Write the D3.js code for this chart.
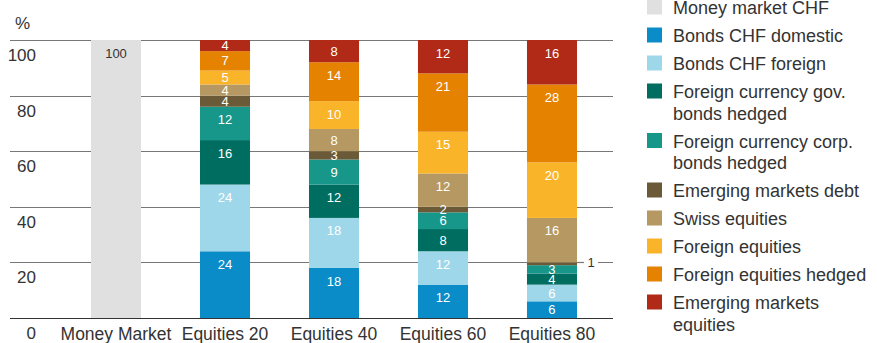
<!DOCTYPE html>
<html>
<head>
<meta charset="utf-8">
<script src="https://cdn.jsdelivr.net/npm/d3@7"></script>
<style>
  body { margin: 0; background: #fff; }
  text { font-family: "Liberation Sans", Arial, sans-serif; fill: #333; }
</style>
</head>
<body>
<div id="chart"></div>
<script>
let width = 877,
    height = 343;

// portfolios on the x axis
let portfolios = ["Money Market", "Equities 20", "Equities 40", "Equities 60", "Equities 80"];

// asset classes, bottom to top
let assets = [
  "Money market CHF",
  "Bonds CHF domestic",
  "Bonds CHF foreign",
  "Foreign currency gov. bonds hedged",
  "Foreign currency corp. bonds hedged",
  "Emerging markets debt",
  "Swiss equities",
  "Foreign equities",
  "Foreign equities hedged",
  "Emerging markets equities"
];
let legendLines = [
  ["Money market CHF"],
  ["Bonds CHF domestic"],
  ["Bonds CHF foreign"],
  ["Foreign currency gov.", "bonds hedged"],
  ["Foreign currency corp.", "bonds hedged"],
  ["Emerging markets debt"],
  ["Swiss equities"],
  ["Foreign equities"],
  ["Foreign equities hedged"],
  ["Emerging markets", "equities"]
];
let colors = ["#e0e0e0", "#0a8cc8", "#9fd7ea", "#006d61", "#17968a",
              "#6a5a37", "#b59862", "#fab42a", "#e58300", "#b02a17"];

// weights in % per portfolio, same order as assets
let moneyMarket = [100, 0, 0, 0, 0, 0, 0, 0, 0, 0];
let equities20  = [0, 24, 24, 16, 12, 4, 4, 5, 7, 4];
let equities40  = [0, 18, 18, 12, 9, 3, 8, 10, 14, 8];
let equities60  = [0, 12, 12, 8, 6, 2, 12, 15, 21, 12];
let equities80  = [0, 6, 6, 4, 3, 1, 16, 20, 28, 16];

let yTicks = [0, 20, 40, 60, 80, 100];

let table = [moneyMarket, equities20, equities40, equities60, equities80].map((vals, i) => {
  let row = { portfolio: portfolios[i] };
  assets.forEach((a, j) => row[a] = vals[j]);
  return row;
});

let svg = d3.select("#chart").append("svg")
    .attr("width", width)
    .attr("height", height);

let x = d3.scaleBand()
    .domain(portfolios)
    .range([36.5, 631.5])
    .paddingInner(0.541)
    .paddingOuter(0.5);

let y = d3.scaleLinear()
    .domain([0, 100])
    .range([318, 40]);

let color = d3.scaleOrdinal().domain(assets).range(colors);

// grid
svg.append("g").selectAll("line")
  .data(yTicks.filter(d => d > 0))
  .enter().append("line")
    .attr("x1", 10).attr("x2", 613)
    .attr("y1", d => Math.round(y(d)) + 0.5)
    .attr("y2", d => Math.round(y(d)) + 0.5)
    .attr("stroke", "#777")
    .attr("stroke-width", 1.2);

svg.append("g").selectAll("text")
  .data(yTicks)
  .enter().append("text")
    .attr("x", 36)
    .attr("y", d => y(d) + 21)
    .attr("text-anchor", "end")
    .style("font-size", "17px")
    .text(d => d);

svg.append("text")
  .attr("x", 15).attr("y", 29)
  .style("font-size", "17px")
  .text("%");

// stacked bars
let series = d3.stack().keys(assets)(table);

let layer = svg.append("g").selectAll("g")
  .data(series)
  .enter().append("g")
    .attr("fill", d => color(d.key));

layer.selectAll("rect")
  .data(d => d.filter(p => p[1] - p[0] > 0))
  .enter().append("rect")
    .attr("x", d => x(d.data.portfolio))
    .attr("width", x.bandwidth())
    .attr("y", d => y(d[1]))
    .attr("height", d => y(d[0]) - y(d[1]));

// labels inside segments
let labels = [];
series.forEach(s => s.forEach(p => {
  let v = p[1] - p[0];
  if (v > 1) labels.push({ key: s.key, v: v, p: p });
}));

svg.append("g").selectAll("text")
  .data(labels)
  .enter().append("text")
    .attr("x", d => x(d.p.data.portfolio) + x.bandwidth() / 2)
    .attr("y", d => {
      let top = y(d.p[1]), h = y(d.p[0]) - top;
      return top + Math.min(h / 2, 13);
    })
    .attr("dy", "0.35em")
    .attr("text-anchor", "middle")
    .style("font-size", "13px")
    .style("fill", d => d.key == "Money market CHF" ? "#333" : "#fff")
    .text(d => d.v);

// callout for the 1% segment
let small = [];
series.forEach(s => s.forEach(p => {
  if (p[1] - p[0] == 1) small.push({ v: 1, p: p });
}));
let callout = svg.append("g").selectAll("g")
  .data(small)
  .enter().append("g");
let cy = d => Math.round(y(d.p[1])) + 0.5;
callout.append("rect")
    .attr("x", d => x(d.p.data.portfolio) + x.bandwidth() + 7)
    .attr("y", d => cy(d) - 8)
    .attr("width", 14).attr("height", 16)
    .attr("fill", "#fff");
callout.append("line")
    .attr("x1", d => x(d.p.data.portfolio) + x.bandwidth())
    .attr("x2", d => x(d.p.data.portfolio) + x.bandwidth() + 7)
    .attr("y1", cy)
    .attr("y2", cy)
    .attr("stroke", "#777").attr("stroke-width", 1.2);
callout.append("text")
    .attr("x", d => x(d.p.data.portfolio) + x.bandwidth() + 14)
    .attr("y", cy)
    .attr("dy", "0.35em")
    .attr("text-anchor", "middle")
    .style("font-size", "13px")
    .text(d => d.v);

// baseline
svg.append("line")
  .attr("x1", 10).attr("x2", 613)
  .attr("y1", 318.5).attr("y2", 318.5)
  .attr("stroke", "#333").attr("stroke-width", 1.2);

// category labels
svg.append("g").selectAll("text")
  .data(portfolios)
  .enter().append("text")
    .attr("x", d => x(d) + x.bandwidth() / 2)
    .attr("y", 340)
    .attr("text-anchor", "middle")
    .style("font-size", "17.5px")
    .text(d => d);

// legend
let legend = svg.append("g").attr("transform", "translate(647,0)");
let ly = -0.5;
legendLines.forEach((lines, i) => {
  let g = legend.append("g").attr("transform", "translate(0," + ly + ")");
  g.append("rect")
    .attr("width", 15).attr("height", 15)
    .attr("fill", colors[i]);
  g.append("text")
    .attr("x", 26).attr("y", 14.5)
    .style("font-size", "18px")
    .selectAll("tspan")
    .data(lines)
    .enter().append("tspan")
      .attr("x", 26)
      .attr("dy", (d, k) => k == 0 ? 0 : 21.5)
      .text(d => d);
  ly += lines.length == 1 ? 28 : 49.5;
});
</script>
</body>
</html>
